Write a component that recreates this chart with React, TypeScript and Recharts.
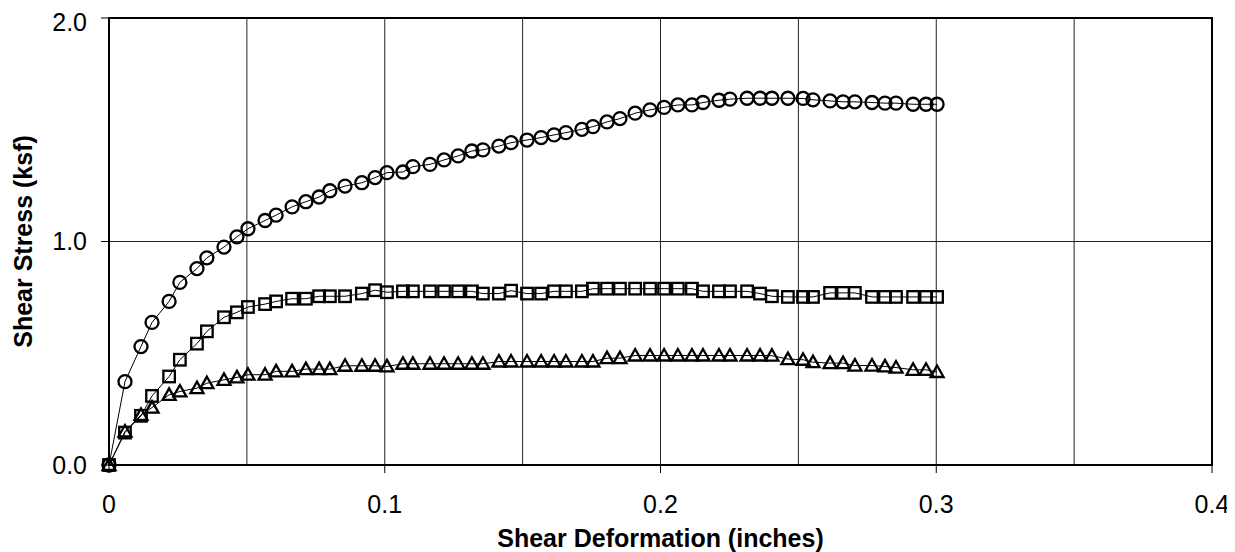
import React from 'react';
import { LineChart, Line, XAxis, YAxis, ReferenceLine, ReferenceArea } from 'recharts';

const deformation = [
  0, 0.0058, 0.0116, 0.0156, 0.0218, 0.0257, 0.0319, 0.0355, 0.0417, 0.0464,
  0.0504, 0.0566, 0.0606, 0.0664, 0.0714, 0.0762, 0.0801, 0.0856, 0.0917, 0.0965,
  0.1008, 0.1066, 0.1102, 0.1164, 0.1215, 0.1266, 0.1316, 0.1356, 0.1414, 0.1458,
  0.1516, 0.1567, 0.1614, 0.1657, 0.1715, 0.1755, 0.1806, 0.1853, 0.1908, 0.1962,
  0.2013, 0.2063, 0.2114, 0.2154, 0.2212, 0.2252, 0.2314, 0.2361, 0.2404, 0.2462,
  0.2517, 0.2553, 0.2615, 0.2662, 0.2705, 0.2767, 0.2814, 0.2854, 0.2916, 0.2963,
  0.3003,
];

const stressCircle = [
  0, 0.373, 0.53, 0.638, 0.732, 0.817, 0.879, 0.927, 0.975, 1.021,
  1.057, 1.094, 1.118, 1.155, 1.178, 1.199, 1.227, 1.248, 1.263, 1.286,
  1.308, 1.311, 1.335, 1.345, 1.365, 1.383, 1.405, 1.41, 1.427, 1.442,
  1.454, 1.465, 1.477, 1.487, 1.502, 1.514, 1.535, 1.55, 1.574, 1.589,
  1.6, 1.611, 1.611, 1.622, 1.632, 1.637, 1.641, 1.641, 1.641, 1.641,
  1.64, 1.634, 1.629, 1.625, 1.625, 1.622, 1.619, 1.619, 1.614, 1.614,
  1.614,
];

const stressSquare = [
  0, 0.145, 0.22, 0.309, 0.396, 0.471, 0.543, 0.598, 0.661, 0.683,
  0.707, 0.72, 0.732, 0.744, 0.744, 0.755, 0.755, 0.755, 0.767, 0.782,
  0.773, 0.777, 0.777, 0.777, 0.777, 0.777, 0.777, 0.767, 0.767, 0.78,
  0.767, 0.767, 0.777, 0.777, 0.777, 0.789, 0.789, 0.789, 0.789, 0.789,
  0.789, 0.789, 0.789, 0.777, 0.777, 0.777, 0.777, 0.767, 0.755, 0.752,
  0.752, 0.752, 0.77, 0.77, 0.77, 0.752, 0.752, 0.752, 0.752, 0.752,
  0.752,
];

const stressTriangle = [
  0, 0.15, 0.224, 0.257, 0.314, 0.329, 0.344, 0.366, 0.381, 0.392,
  0.404, 0.404, 0.419, 0.419, 0.429, 0.429, 0.429, 0.444, 0.444, 0.444,
  0.441, 0.453, 0.453, 0.453, 0.453, 0.453, 0.453, 0.453, 0.463, 0.463,
  0.463, 0.463, 0.463, 0.463, 0.463, 0.463, 0.478, 0.478, 0.49, 0.49,
  0.49, 0.49, 0.49, 0.49, 0.49, 0.49, 0.49, 0.49, 0.489, 0.474,
  0.471, 0.46, 0.456, 0.456, 0.445, 0.445, 0.441, 0.436, 0.426, 0.426,
  0.416,
];

const xTicks = [0, 0.1, 0.2, 0.3, 0.4];
const yTicks = [0, 1, 2];
const xGrid = [0.05, 0.1, 0.15, 0.2, 0.25, 0.3, 0.35];
const yGrid = [1];

const FONT = '"Liberation Sans", Arial, sans-serif';

const toSeries = (ys: number[]) => deformation.map((x, i) => ({ x, y: ys[i] }));
const circleData = toSeries(stressCircle);
const squareData = toSeries(stressSquare);
const triangleData = toSeries(stressTriangle);

const CircleDot = (p: any) => {
  const { cx, cy, index } = p;
  if (cx == null || cy == null) return <g key={`c${index}`} />;
  return <circle key={`c${index}`} cx={cx} cy={cy} r={6.5} fill="none" stroke="#000" strokeWidth={2.3} />;
};
const SquareDot = (p: any) => {
  const { cx, cy, index } = p;
  if (cx == null || cy == null) return <g key={`s${index}`} />;
  return <rect key={`s${index}`} x={cx - 5.75} y={cy - 5.75} width={11.5} height={11.5} fill="none" stroke="#000" strokeWidth={2.3} />;
};
const TriangleDot = (p: any) => {
  const { cx, cy, index } = p;
  if (cx == null || cy == null) return <g key={`t${index}`} />;
  return (
    <polygon
      key={`t${index}`}
      points={`${cx},${cy - 6.5} ${cx + 6.5},${cy + 5} ${cx - 6.5},${cy + 5}`}
      fill="none"
      stroke="#000"
      strokeWidth={2.3}
      strokeLinejoin="miter"
    />
  );
};

const YLabel = (props: any) => {
  const vb = props.viewBox || { x: 0, y: 0, width: 0, height: 0 };
  const cx = 15;
  const cy = vb.y + vb.height / 2;
  return (
    <text
      x={cx}
      y={cy}
      transform={`rotate(-90, ${cx}, ${cy})`}
      textAnchor="middle"
      dominantBaseline="central"
      fontFamily={FONT}
      fontWeight="bold"
      fontSize={25}
      fill="#000"
    >
      Shear Stress (ksf)
    </text>
  );
};

export default function App() {
  return (
    <div style={{ width: 1227, height: 544, background: '#fff' }}>
      <LineChart width={1227} height={544} margin={{ top: 10, right: 23, bottom: 27, left: 0 }}>
        <XAxis
          type="number"
          dataKey="x"
          domain={[0, 0.4]}
          ticks={xTicks}
          height={60}
          tickSize={8}
          tickMargin={22}
          axisLine={{ stroke: '#000', strokeWidth: 2 }}
          tickLine={{ stroke: '#000', strokeWidth: 1 }}
          tick={{ fill: '#000', fontSize: 25, fontFamily: FONT }}
          tickFormatter={(v: number) => (v === 0 ? '0' : String(v))}
          label={{
            value: 'Shear Deformation (inches)',
            position: 'bottom',
            offset: 4,
            fill: '#000',
            fontSize: 25,
            fontWeight: 'bold',
            fontFamily: FONT,
          }}
        />
        <YAxis
          type="number"
          domain={[0, 2]}
          ticks={yTicks}
          width={101}
          tickSize={8}
          tickMargin={14}
          axisLine={{ stroke: '#000', strokeWidth: 2 }}
          tickLine={{ stroke: '#000', strokeWidth: 1 }}
          tick={{ fill: '#000', fontSize: 25, fontFamily: FONT }}
          tickFormatter={(v: number) => v.toFixed(1)}
          label={<YLabel />}
        />
        {xGrid.map((v) => (
          <ReferenceLine key={`gx${v}`} x={v} stroke="#222" strokeWidth={1} />
        ))}
        {yGrid.map((v) => (
          <ReferenceLine key={`gy${v}`} y={v} stroke="#222" strokeWidth={1} />
        ))}
        <ReferenceArea x1={0} x2={0.4} y1={0} y2={2} fill="none" stroke="#000" strokeWidth={2} />
        <Line
          data={circleData}
          dataKey="y"
          stroke="#000"
          strokeWidth={1}
          dot={CircleDot}
          activeDot={false}
          isAnimationActive={false}
        />
        <Line
          data={squareData}
          dataKey="y"
          stroke="#000"
          strokeWidth={1}
          dot={SquareDot}
          activeDot={false}
          isAnimationActive={false}
        />
        <Line
          data={triangleData}
          dataKey="y"
          stroke="#000"
          strokeWidth={1}
          dot={TriangleDot}
          activeDot={false}
          isAnimationActive={false}
        />
      </LineChart>
    </div>
  );
}
